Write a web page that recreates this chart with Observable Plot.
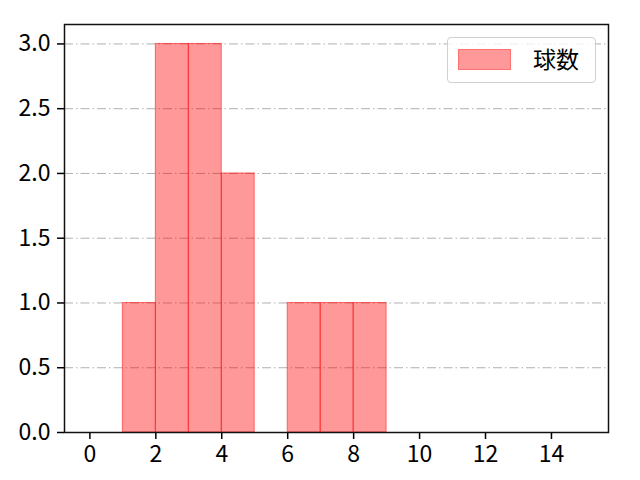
<!DOCTYPE html>
<html>
<head>
<meta charset="utf-8">
<script src="https://cdn.jsdelivr.net/npm/d3@7"></script>
<script src="https://cdn.jsdelivr.net/npm/@observablehq/plot@0.6"></script>
<style>
  html, body { margin: 0; padding: 0; background: #fff; }
  #wrap { position: relative; width: 640px; height: 480px; }
  #legend { position: absolute; left: 447px; top: 37px; width: 149px; height: 46px;
    border: 1px solid #d0d0d0; border-radius: 4px; background: rgba(255,255,255,0.8); box-sizing: border-box;
    font-family: "Noto Sans CJK JP", sans-serif; font-size: 23px; }
  #legend .sw { position: absolute; left: 10px; top: 11px; width: 53px; height: 21px; background: rgba(255,0,0,0.4); border: 1px solid rgba(255,0,0,0.25); box-sizing: border-box; }
  #legend .lb { position: absolute; left: 85px; top: 5px; line-height: 30px; color: #000; }
</style>
</head>
<body>
<div id="wrap"><div id="chart"></div><div id="legend"><div class="sw"></div><div class="lb">球数</div></div></div>
<script>
const binStart = [1, 2, 3, 4, 5, 6, 7, 8];
const binEnd   = [2, 3, 4, 5, 6, 7, 8, 9];
const counts   = [1, 3, 3, 2, 0, 1, 1, 1];
const xTicks = [0, 2, 4, 6, 8, 10, 12, 14];
const yTicks = [0, 0.5, 1.0, 1.5, 2.0, 2.5, 3.0];
const seriesName = "球数";

const bins = binStart.map((s, i) => ({x1: s, x2: binEnd[i], y: counts[i]})).filter(d => d.y > 0);

const chart = Plot.plot({
  width: 640,
  height: 480,
  marginLeft: 64,
  marginRight: 32,
  marginTop: 24,
  marginBottom: 48,
  style: {fontFamily: "'Noto Sans CJK JP', sans-serif", fontSize: "23px", color: "#000", background: "#fff"},
  x: {domain: [-0.77, 15.73], label: null},
  y: {domain: [0, 3.15], label: null},
  marks: [
    Plot.ruleY(yTicks.filter(d => d > 0), {stroke: "#b0b0b0", strokeWidth: 1, strokeDasharray: "9,3,1.5,3"}),
    Plot.rect(bins, {x1: "x1", x2: "x2", y1: 0, y2: "y", fill: "red", fillOpacity: 0.4, stroke: "red", strokeOpacity: 0.5, strokeWidth: 1}),
    Plot.axisX({ticks: xTicks, tickFormat: d => String(d), tickSize: 7, tickPadding: 6, strokeWidth: 1.5, fontSize: 23, label: null}),
    Plot.axisY({ticks: yTicks, tickFormat: d => d.toFixed(1), tickSize: 7, tickPadding: 7, strokeWidth: 1.5, fontSize: 23, label: null}),
    Plot.frame({stroke: "#111", strokeWidth: 1.5})
  ]
});
document.getElementById("chart").appendChild(chart);
</script>
</body>
</html>
